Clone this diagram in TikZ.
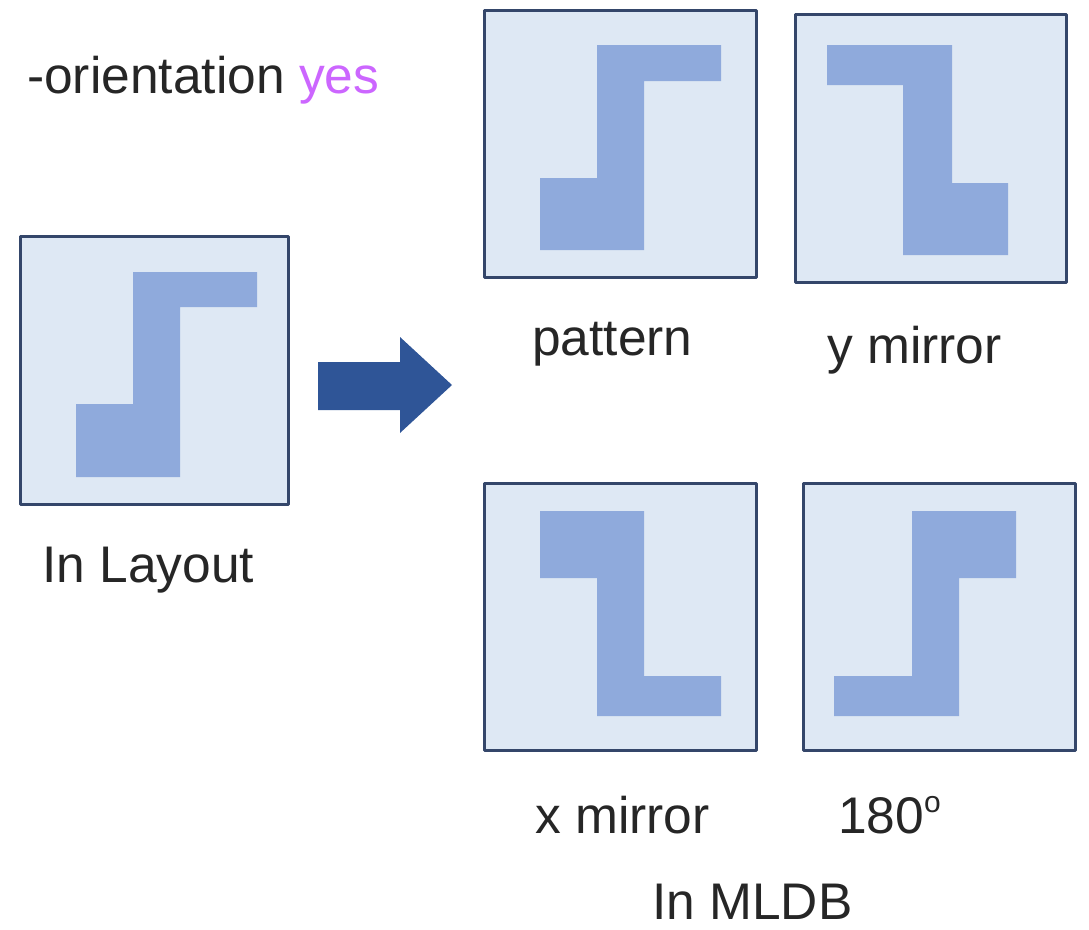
\documentclass[tikz,border=0pt]{standalone}
\usepackage{fontspec}
\setmainfont{Liberation Sans}
\usetikzlibrary{calc}

\definecolor{panelfill}{HTML}{DEE8F4}
\definecolor{panelline}{HTML}{34466A}
\definecolor{shapefill}{HTML}{8FAADC}
\definecolor{arrowfill}{HTML}{2F5597}
\definecolor{yescol}{HTML}{CC66FF}
\definecolor{textcol}{HTML}{262626}

\tikzset{
  panel/.style={draw=panelline, fill=panelfill, line width=3pt, line join=round},
  zshape/.style={fill=shapefill},
  caption/.style={anchor=base west, inner sep=0pt, text=textcol,
    font=\fontsize{51.5}{60}\selectfont}
}

\begin{document}
\begin{tikzpicture}[x=1pt, y=-1pt]
  \useasboundingbox (0,0) rectangle (1089,929);

  % option line
  \node[caption] (opt) at (27,93) {-orientation \textcolor{yescol}{yes}};

  % the cell as placed in the layout
  \draw[panel] (20,236) rectangle (288,504);
  \fill[zshape] (76,404) -- (133,404) -- (133,272) -- (257,272) -- (257,307)
    -- (180,307) -- (180,477) -- (76,477) -- cycle;
  \node[caption] (layoutlbl) at (42,582) {In Layout};

  % block arrow
  \fill[arrowfill] (318,362) -- (400,362) -- (400,337) -- (452,385)
    -- (400,433) -- (400,410) -- (318,410) -- cycle;

  % pattern
  \draw[panel] (484,10) rectangle (756,277);
  \fill[zshape] (540,178) -- (597,178) -- (597,45) -- (721,45) -- (721,81)
    -- (644,81) -- (644,250) -- (540,250) -- cycle;
  \node[caption] (patlbl) at (532,355) {pattern};

  % y mirror
  \draw[panel] (795,14) rectangle (1066,282);
  \fill[zshape] (827,45) -- (952,45) -- (952,183) -- (1008,183) -- (1008,255)
    -- (903,255) -- (903,85) -- (827,85) -- cycle;
  \node[caption] (ylbl) at (827,363) {y mirror};

  % x mirror
  \draw[panel] (484,483) rectangle (756,750);
  \fill[zshape] (540,511) -- (644,511) -- (644,676) -- (721,676) -- (721,716)
    -- (597,716) -- (597,578) -- (540,578) -- cycle;
  \node[caption] (xlbl) at (535,833) {x mirror};

  % 180 degree rotation
  \draw[panel] (803,483) rectangle (1075,750);
  \fill[zshape] (912,511) -- (1016,511) -- (1016,578) -- (959,578) -- (959,716)
    -- (834,716) -- (834,676) -- (912,676) -- cycle;
  \node[caption] (rotlbl) at (838,833)
    {180\raisebox{0.4em}{\fontsize{30}{30}\selectfont o}};

  \node[caption] (mldb) at (652,919) {In MLDB};
\end{tikzpicture}
\end{document}
